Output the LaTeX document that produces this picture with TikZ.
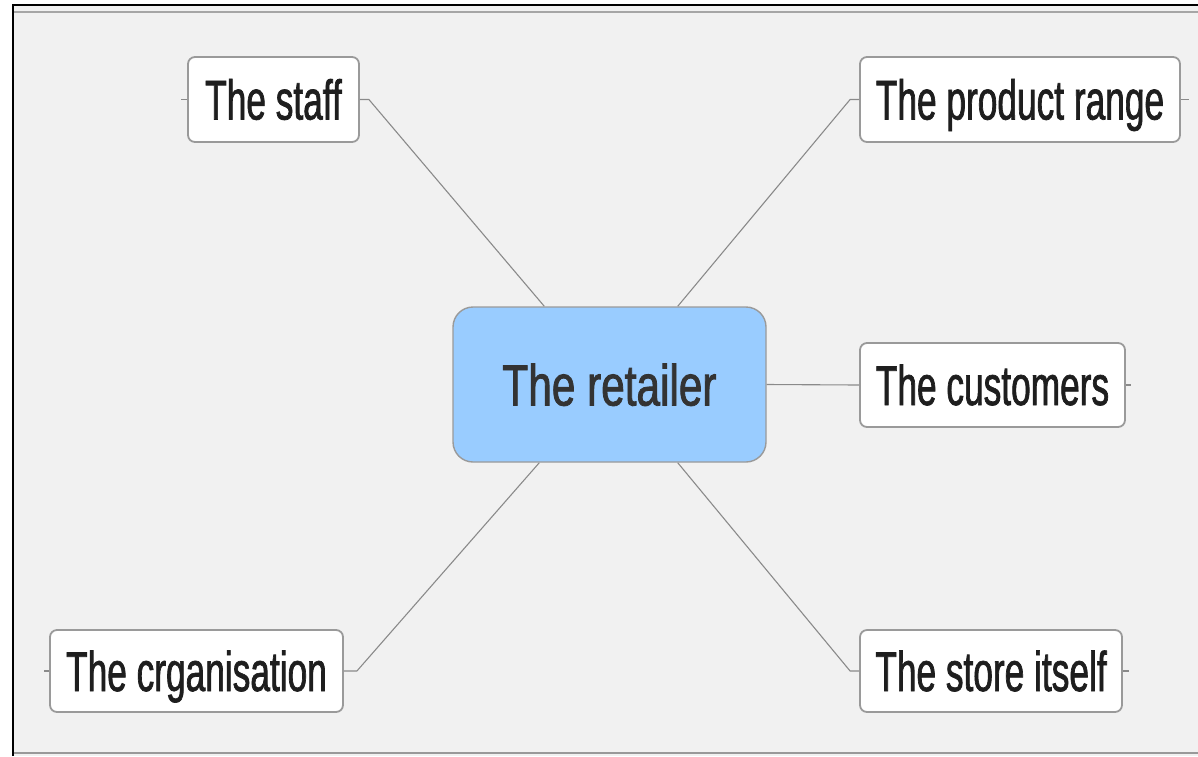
\documentclass[tikz,border=0pt]{standalone}
\usepackage{fontspec}
\setmainfont{Liberation Sans}
\newfontfamily\leaffont[FakeStretch=0.63,FakeBold=1.2]{Liberation Sans}
\newfontfamily\ctrfont[FakeStretch=0.73,FakeBold=1.4]{Liberation Sans}
\usetikzlibrary{calc}
\definecolor{bgc}{HTML}{F1F1F1}
\definecolor{boxline}{HTML}{9A9A9A}
\definecolor{conn}{HTML}{8A8A8A}
\definecolor{ctrfill}{HTML}{99CCFF}
\definecolor{txt}{HTML}{1E1E1E}
\definecolor{ctrtxt}{HTML}{333333}
\tikzset{
  leaf/.style={draw=boxline, line width=1.8pt, fill=white, rounded corners=7pt,
    inner sep=0pt, text height=40pt, text depth=0pt, font=\leaffont\fontsize{56}{60}\selectfont,
    text=txt},
  center node/.style={draw=boxline, line width=1.4pt, fill=ctrfill, rounded corners=20pt,
    inner sep=0pt, text height=42pt, text depth=0pt, font=\ctrfont\fontsize{58}{62}\selectfont,
    text=ctrtxt},
  conn/.style={draw=conn, line width=1.1pt},
}
\begin{document}
\begin{tikzpicture}[x=1pt,y=-1pt]
\useasboundingbox (0,0) rectangle (1198,756);
\fill[bgc] (13,5) rectangle (1198,756);
\draw[black, line width=2.6pt] (13,756) -- (13,5) -- (1198,5);
\draw[gray!70, line width=1.2pt] (14,12) -- (1198,12);
\draw[gray!80, line width=1.5pt] (14,753) -- (1198,753);

\node[center node, minimum width=313pt, minimum height=155pt] (ctr) at (609.5,384.5) {The retailer};
\node[leaf, minimum width=171pt, minimum height=85pt] (staff) at (273.5,99.5) {The staff};
\node[leaf, minimum width=320pt, minimum height=85pt] (prod) at (1020,99.5) {The product range};
\node[leaf, minimum width=265pt, minimum height=84pt] (cust) at (992.5,385) {The customers};
\node[leaf, minimum width=293pt, minimum height=82pt] (org) at (196.5,671) {The crganisation};
\node[leaf, minimum width=262pt, minimum height=82pt] (store) at (991,671) {The store itself};

\coordinate (ctrA) at ($(ctr.north west)+(92,0)$);
\coordinate (ctrB) at ($(ctr.north east)+(-89,0)$);
\coordinate (ctrC) at ($(ctr.south west)+(87,0)$);
\coordinate (ctrD) at ($(ctr.south east)+(-89,0)$);

\draw[conn] (staff.east) -- ++(9,0) -- (ctrA);
\draw[conn] (prod.west) -- ++(-9,0) -- (ctrB);
\draw[conn] (ctr.east) -- (cust.west);
\draw[conn] (org.east) -- ++(13,0) -- (ctrC);
\draw[conn] (store.west) -- ++(-9,0) -- (ctrD);

\draw[conn] (staff.west) -- ++(-6,0);
\draw[conn] (prod.east) -- ++(8,0);
\draw[conn] (cust.east) -- ++(5,0);
\draw[conn] (org.west) -- ++(-5,0);
\draw[conn] (store.east) -- ++(6,0);
\end{tikzpicture}
\end{document}
